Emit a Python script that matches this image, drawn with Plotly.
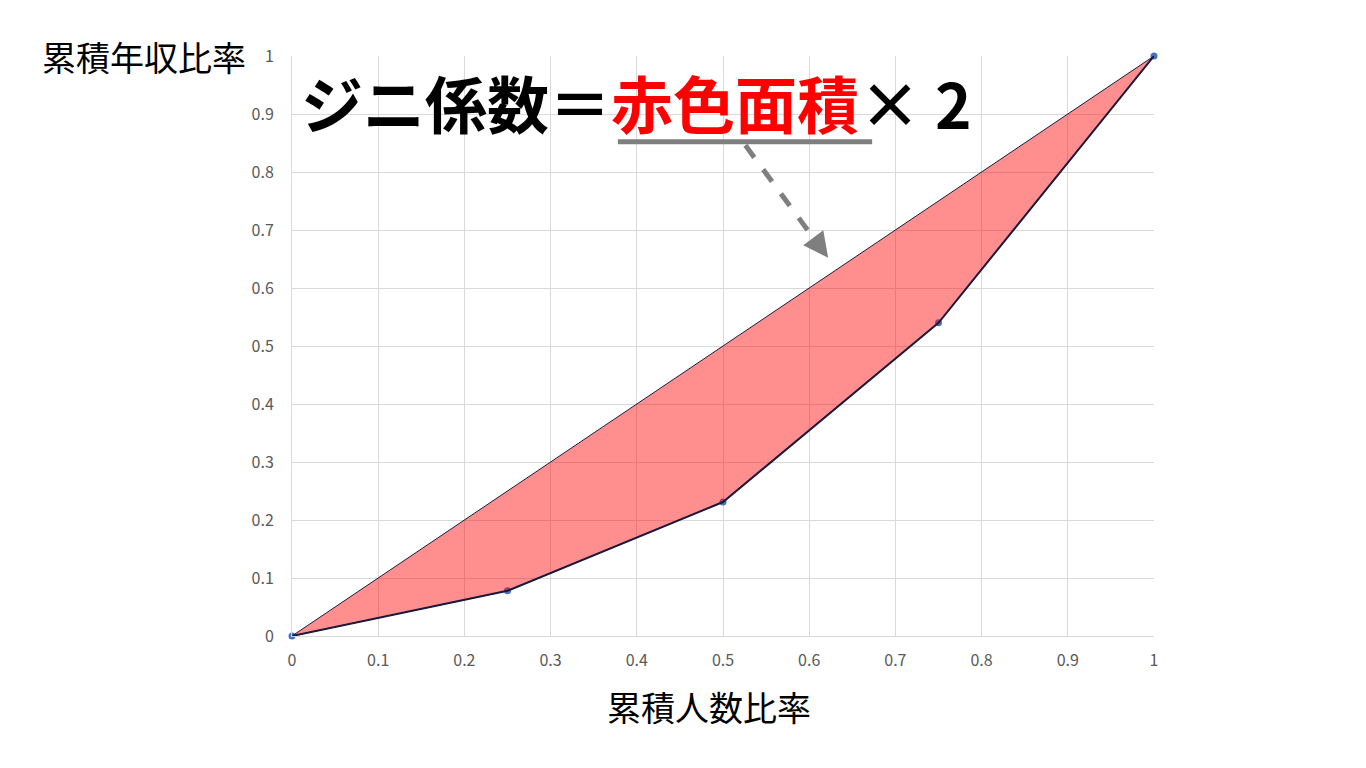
import plotly.graph_objects as go

# Data
cum_pop = [0, 0.25, 0.5, 0.75, 1]
cum_income = [0, 0.078, 0.231, 0.54, 1]
equal_x = [0, 1]
equal_y = [0, 1]
tick_vals = [0, 0.1, 0.2, 0.3, 0.4, 0.5, 0.6, 0.7, 0.8, 0.9, 1]
tick_text = ["0", "0.1", "0.2", "0.3", "0.4", "0.5", "0.6", "0.7", "0.8", "0.9", "1"]

FONT = "Noto Sans CJK JP"
LINE_COLOR = "#1c1a3c"

fig = go.Figure()

# markers (under the fill)
fig.add_trace(go.Scatter(
    x=cum_pop, y=cum_income, mode="markers",
    marker=dict(color="#4472C4", size=7),
    cliponaxis=False, showlegend=False, hoverinfo="skip"))

# filled area between equality line and Lorenz curve
poly_x = cum_pop + equal_x[::-1]
poly_y = cum_income + equal_y[::-1]
fig.add_trace(go.Scatter(
    x=poly_x, y=poly_y, mode="lines", fill="toself",
    fillcolor="rgba(255,0,0,0.44)",
    line=dict(color=LINE_COLOR, width=1),
    cliponaxis=False, showlegend=False, hoverinfo="skip"))

# Lorenz curve line (thicker)
fig.add_trace(go.Scatter(
    x=cum_pop, y=cum_income, mode="lines",
    line=dict(color=LINE_COLOR, width=2),
    cliponaxis=False, showlegend=False, hoverinfo="skip"))

axis_common = dict(
    range=[0, 1], tickvals=tick_vals, ticktext=tick_text,
    showgrid=True, gridcolor="#d9d9d9", gridwidth=1,
    zeroline=False, showline=True, linecolor="#d9d9d9", linewidth=1,
    tickfont=dict(family=FONT, size=16, color="#595959"),
    ticks="", fixedrange=True,
)

fig.update_layout(
    width=1350, height=752,
    margin=dict(l=284, r=204, t=48, b=124),
    paper_bgcolor="white", plot_bgcolor="white",
    xaxis=dict(**axis_common, ticklabelstandoff=10),
    yaxis=dict(**axis_common, ticklabelstandoff=14),
    showlegend=False,
)

# axis titles
fig.add_annotation(text="累積年収比率", xref="paper", yref="paper",
                   x=-0.1717, y=1.0, xanchor="center", yanchor="middle",
                   showarrow=False,
                   font=dict(family=FONT, size=34, color="#000000"))
fig.add_annotation(text="累積人数比率", xref="paper", yref="paper",
                   x=0.4838, y=-0.122, xanchor="center", yanchor="middle",
                   showarrow=False,
                   font=dict(family=FONT, size=34, color="#000000"))

# headline
fig.add_annotation(
    text="<b>ジニ係数＝<span style='color:#ff0000'>赤色面積</span>× 2</b>",
    xref="x", yref="y", x=0.008, y=0.921, xanchor="left", yanchor="middle",
    showarrow=False,
    font=dict(family=FONT, size=62, color="#000000", weight=900))

# underline under 赤色面積
fig.add_shape(type="line", xref="x", yref="y",
              x0=0.378, x1=0.673, y0=0.852, y1=0.852,
              line=dict(color="#7f7f7f", width=5))

# dashed arrow
fig.add_shape(type="line", xref="x", yref="y",
              x0=0.526, y0=0.846, x1=0.608, y1=0.68,
              line=dict(color="#7f7f7f", width=5, dash="dash"))
fig.add_annotation(xref="x", yref="y", axref="x", ayref="y",
                   x=0.622, y=0.652, ax=0.606, ay=0.684,
                   text="", showarrow=True, arrowhead=2, arrowsize=1,
                   arrowwidth=5, arrowcolor="#7f7f7f")

fig.write_html("out.html")
